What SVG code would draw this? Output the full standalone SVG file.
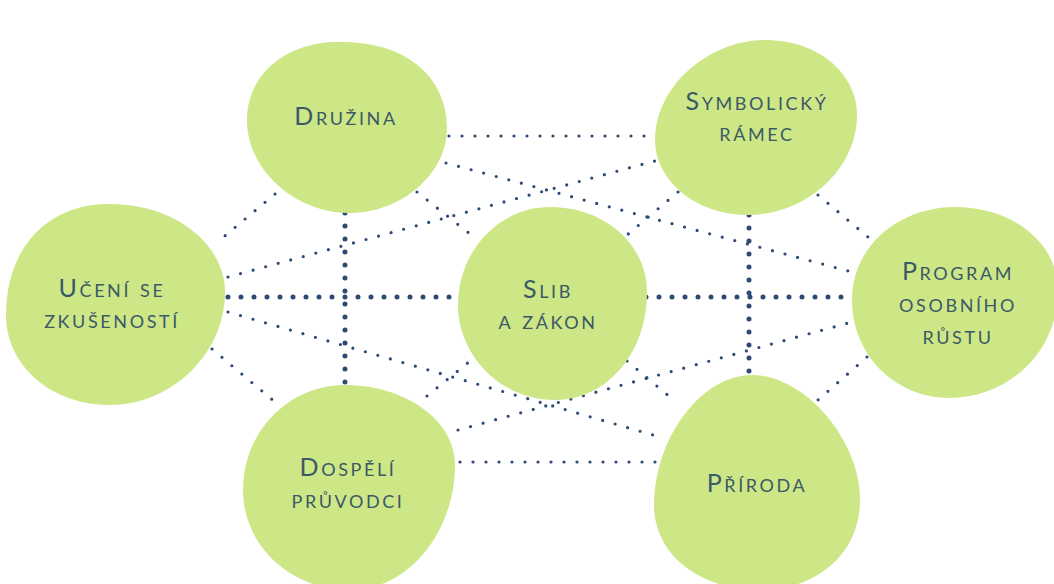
<svg xmlns="http://www.w3.org/2000/svg" width="1054" height="584" viewBox="0 0 1054 584">
<style>
.thin{fill:none;stroke:#2c4a73;stroke-width:3.2;stroke-linecap:round;stroke-dasharray:0 13}
.thick{fill:none;stroke:#2c4a73;stroke-width:5;stroke-linecap:round;stroke-dasharray:0 13}
.blob{fill:#cde787}
.lbl{font-family:Lato,"Open Sans",sans-serif;font-size:25px;font-variant:small-caps;letter-spacing:2.6px;fill:#3b5966;text-anchor:middle}
</style>
<rect width="1054" height="584" fill="#ffffff"/>
<g id="connectors">
<line class="thin" x1="449" y1="136" x2="652" y2="136"/>
<line class="thin" x1="460" y1="462" x2="658" y2="462"/>
<line class="thin" x1="275" y1="194" x2="220" y2="240"/>
<line class="thin" x1="818" y1="195" x2="868" y2="237"/>
<line class="thin" x1="212" y1="349" x2="275" y2="402"/>
<line class="thin" x1="867" y1="357" x2="818" y2="400"/>
<line class="thin" x1="228" y1="277" x2="662" y2="159"/>
<line class="thin" x1="446" y1="163" x2="852" y2="272"/>
<line class="thin" x1="228" y1="312" x2="660" y2="437"/>
<line class="thin" x1="458" y1="430" x2="852" y2="322"/>
<line class="thin" x1="417" y1="192" x2="470" y2="234"/>
<line class="thin" x1="678" y1="192" x2="627" y2="235"/>
<line class="thin" x1="427" y1="396" x2="470" y2="361"/>
<line class="thin" x1="627" y1="361" x2="670" y2="397"/>
<line class="thick" x1="228" y1="297" x2="460" y2="297"/>
<line class="thick" x1="646" y1="297" x2="852" y2="297"/>
<line class="thick" x1="345" y1="213" x2="345" y2="385"/>
<line class="thick" x1="749" y1="215" x2="749" y2="378"/>
</g>
<g id="druzina">
<path class="blob" d="M335,42 C410,40 447,80 447,128 C447,175 400,213 350,213 C295,213 247,170 247,120 C247,75 285,43 335,42 Z"/>
<text class="lbl" x="346" y="125">Družina</text>
</g>
<g id="symbolicky">
<path class="blob" d="M765,40 C820,40 857,75 857,115 C857,170 805,215 748,215 C695,215 655,180 655,140 C655,85 710,40 765,40 Z"/>
<text class="lbl" x="757" y="110">Symbolický</text>
<text class="lbl" x="757" y="141">rámec</text>
</g>
<g id="uceni">
<path class="blob" d="M105,204 C175,202 225,245 225,292 C225,355 170,405 110,405 C50,405 6,365 6,315 C6,250 45,206 105,204 Z"/>
<text class="lbl" x="112" y="297">Učení se</text>
<text class="lbl" x="112" y="328">zkušeností</text>
</g>
<g id="program">
<path class="blob" d="M955,207 C1015,207 1058,245 1058,290 C1058,355 1005,398 950,398 C895,398 852,355 852,300 C852,245 900,207 955,207 Z"/>
<text class="lbl" x="958" y="280">Program</text>
<text class="lbl" x="958" y="312">osobního</text>
<text class="lbl" x="958" y="344">růstu</text>
</g>
<g id="slib">
<path class="blob" d="M550,207 C605,207 647,245 647,292 C647,355 605,400 555,400 C500,400 458,355 458,305 C458,250 500,207 550,207 Z"/>
<text class="lbl" x="548" y="298">Slib</text>
<text class="lbl" x="548" y="329">a zákon</text>
</g>
<g id="dospeli">
<path class="blob" d="M345,385 C405,385 455,420 455,465 C455,530 410,590 350,590 C290,590 243,545 243,490 C243,430 290,385 345,385 Z"/>
<text class="lbl" x="348" y="476">Dospělí</text>
<text class="lbl" x="348" y="508">průvodci</text>
</g>
<g id="priroda">
<path class="blob" d="M752,375 C805,375 860,440 860,500 C860,555 815,590 760,590 C700,590 654,555 654,505 C654,440 700,375 752,375 Z"/>
<text class="lbl" x="757" y="492">Příroda</text>
</g>
</svg>
